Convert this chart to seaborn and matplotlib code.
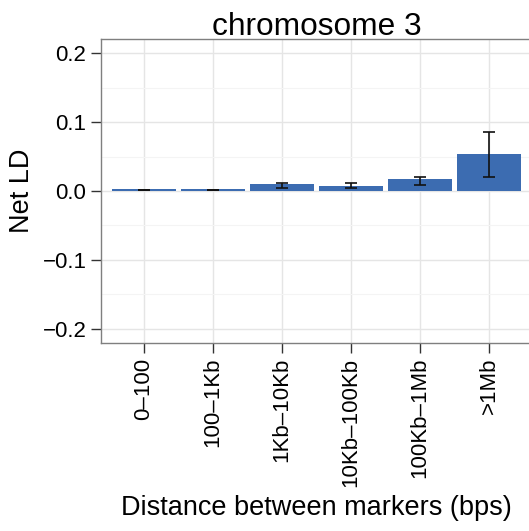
import matplotlib
matplotlib.use("Agg")
import matplotlib.pyplot as plt
import seaborn as sns
import pandas as pd
import numpy as np
from matplotlib.ticker import MultipleLocator

categories = ["0\u2013100", "100\u20131Kb", "1Kb\u201310Kb", "10Kb\u2013100Kb", "100Kb\u20131Mb", ">1Mb"]
net_ld = [0.0025, 0.0025, 0.0100, 0.0072, 0.0170, 0.0540]
err_low = [0.0008, 0.0008, 0.0040, 0.0038, 0.0087, 0.0200]
err_high = [0.0012, 0.0012, 0.0115, 0.0115, 0.0207, 0.0860]
ytick_vals = [-0.2, -0.1, 0.0, 0.1, 0.2]
ytick_labels = ["\u22120.2", "\u22120.1", "0.0", "0.1", "0.2"]

sns.set_theme(style="white")
plt.rcParams['font.family'] = ['Liberation Sans', 'DejaVu Sans']
plt.rcParams['text.color'] = 'black'
plt.rcParams['axes.labelcolor'] = 'black'

df = pd.DataFrame({"dist": categories, "ld": net_ld})

fig = plt.figure(figsize=(5.29, 5.31), dpi=100)
ax = fig.add_axes([101/529, (531-343)/531, (532-101)/529, (343-39)/531])

sns.barplot(data=df, x="dist", y="ld", color="#3C6CB1", saturation=1, width=0.92,
            ax=ax, zorder=3, edgecolor="none")

mid = [(l + h) / 2 for l, h in zip(err_low, err_high)]
half = [(h - l) / 2 for l, h in zip(err_low, err_high)]
ax.errorbar(np.arange(len(categories)), mid, yerr=half, fmt="none", ecolor="#111111",
            elinewidth=1.2, capsize=4, capthick=1.2, zorder=4)

ax.set_xlim(-0.62, 5.62)
ax.set_ylim(-0.2203, 0.2203)
ax.yaxis.set_minor_locator(MultipleLocator(0.05))
ax.set_yticks(ytick_vals)
ax.set_yticklabels(ytick_labels)

ax.grid(which="major", color="#E5E5E5", linewidth=1.0, zorder=0)
ax.grid(which="minor", axis="y", color="#F4F4F4", linewidth=0.8, zorder=0)
ax.set_axisbelow(True)

for s in ax.spines.values():
    s.set_color("#7F7F7F")
    s.set_linewidth(1.0)

ax.tick_params(axis="both", which="major", direction="out", length=7, width=1,
               color="#333333", labelsize=16, labelcolor="black", pad=3.5,
               bottom=True, left=True)
ax.tick_params(axis="y", which="minor", length=0)
plt.setp(ax.get_xticklabels(), rotation=90)

ax.set_xlabel("Distance between markers (bps)", fontsize=19.5, labelpad=6)
ax.set_ylabel("Net LD", fontsize=19.5, labelpad=5)
ax.set_title("chromosome 3", fontsize=22.8, pad=3)

fig.savefig("out.png", dpi=100)
